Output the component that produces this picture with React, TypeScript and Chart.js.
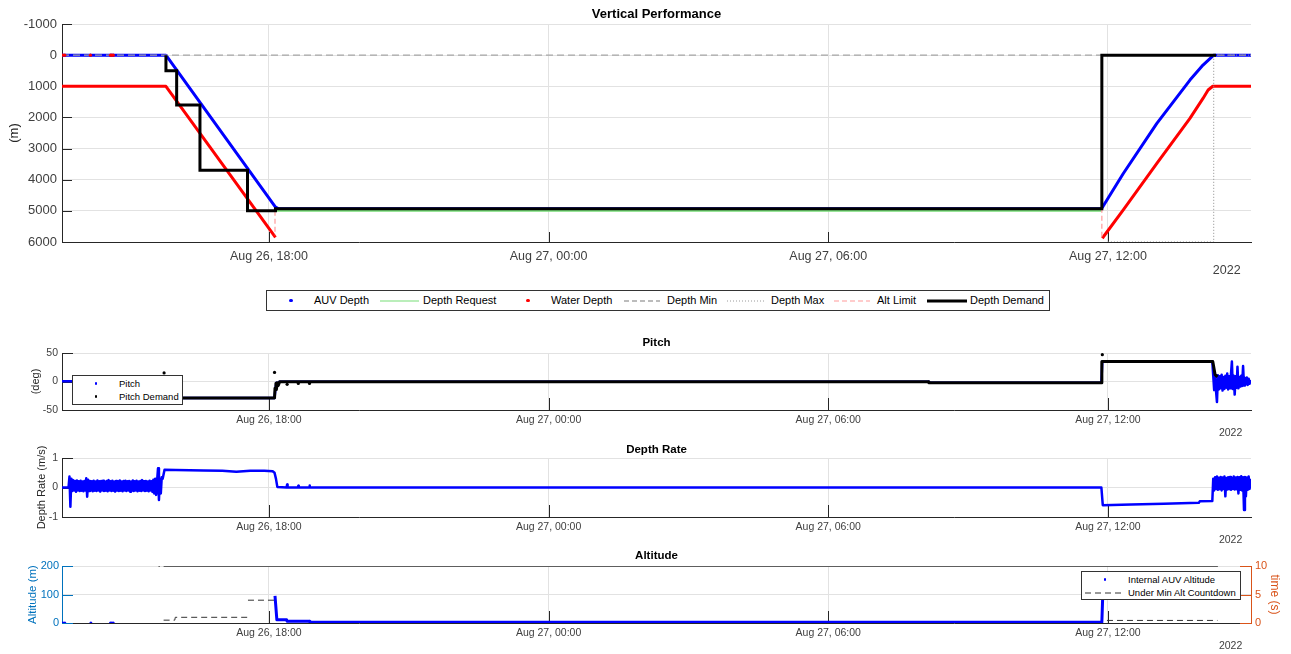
import React, { useEffect, useRef } from 'react';
import { Chart, registerables } from 'chart.js';

Chart.register(...registerables);

const FONT = '"Liberation Sans", Arial, Helvetica, sans-serif';
const W = 1291;

// ---------- shared time axis (hours since 2022-08-26 00:00) ----------
const timeMin = 13.56;
const timeMax = 39.07;
const timeTickHours = [18, 24, 30, 36];
const timeTickLabels = ['Aug 26, 18:00', 'Aug 27, 00:00', 'Aug 27, 06:00', 'Aug 27, 12:00'];
const yearLabel = '2022';

// ---------- Vertical Performance (m) ----------
const depthTicks = [-1000, 0, 1000, 2000, 3000, 4000, 5000, 6000];
const auvDepthT = [13.56, 15.79, 18.14, 18.2, 35.86, 35.89, 36.33, 37.05, 37.76, 38.04, 38.27, 39.07];
const auvDepthV = [0, 0, 4880, 4930, 4930, 4870, 3800, 2190, 800, 320, 0, 0];
const auvSurfaceT = [13.58, 13.62, 14.17, 14.6, 14.63, 14.66];
const auvSurfaceV = [0, 0, 0, 0, 0, 0];
const depthRequestT = [18.15, 35.86];
const depthRequestV = [5000, 5000];
const waterDepthT = [13.56, 15.79, 18.14, 18.15, 35.88, 36.33, 37.05, 37.76, 38.04, 38.15, 38.25, 39.07];
const waterDepthV = [1000, 1000, 5850, null, 5880, 4970, 3475, 2030, 1390, 1120, 1000, 1000];
const waterSurfaceT = [13.58, 13.62, 14.17, 14.6, 14.63, 14.66];
const waterSurfaceV = [0, 0, 0, 0, 0, 0];
const depthMinT = [13.56, 39.07];
const depthMinV = [0, 0];
const depthMaxT = [36.0, 38.27, 38.27, 39.07];
const depthMaxV = [6000, 6000, 0, 0];
const altLimitT = [18.13, 18.13, 18.13, 35.87, 35.87];
const altLimitV = [5000, 5780, null, 4900, 5880];
const depthDemandT = [15.79, 15.79, 16.02, 16.02, 16.52, 16.52, 17.54, 17.54, 18.14, 18.14, 35.87, 35.87, 38.32];
const depthDemandV = [0, 500, 500, 1600, 1600, 3700, 3700, 5000, 5000, 4930, 4930, 0, 0];

// ---------- Pitch (deg) ----------
const pitchTicks = [-50, 0, 50];
const pitchT = [13.56, 15.78, 15.8, 18.12, 18.14, 18.16, 18.18, 18.22, 32.15, 32.16, 35.86, 35.88, 38.24];
const pitchV = [0.5, 0.5, -29, -29, -12, -2, -6, -0.5, -0.5, -2, -2, 35, 35];
const pitchEndStart = 38.26;
const pitchEndStep = 0.02;
const pitchEndValues = [10, -15, 8, -17, -36, 11, -14, 9, -12, 12, -16, 8, -13, 10, -11, 14, -14, 9, -12, 12, 35, -13, 10, -23, 9, -11, 26, -12, 8, -9, 10, -8, 27, -7, 6, -5, 7, -6, 5, -4, 3];
const pitchDemandT = [15.8, 18.12, 18.13, 18.15, 18.16, 18.18, 18.2, 18.23, 32.15, 32.16, 35.86, 35.87, 38.25, 38.3, 38.35];
const pitchDemandV = [-29, -29, -12, -3, -14, -2, -7, -0.5, -0.5, -2, -2, 35, 35, 12, 8];
const pitchDemandDotT = [15.75, 18.12, 18.39, 18.63, 18.87, 35.88];
const pitchDemandDotV = [15, 16, -5, -3.5, -3.5, 47];

// ---------- Depth Rate (m/s) ----------
const rateTicks = [-1, 0, 1];
const rateLeadT = [13.56, 13.7];
const rateLeadV = [0, 0];
const rateStartStart = 13.72;
const rateStartStep = 0.02;
const rateStartValues = [
  0.37, -0.65, 0.3, -0.12, 0.25, -0.1, 0.22, -0.14, 0.24, -0.1,
  0.21, -0.12, 0.23, -0.11, 0.2, -0.13, 0.22, -0.1, 0.31, -0.31,
  0.26, -0.12, 0.22, -0.1, 0.21, -0.13, 0.23, -0.11, 0.2, -0.12,
  0.24, -0.1, 0.21, -0.14, 0.22, -0.1, 0.23, -0.12, 0.2, -0.11,
  0.22, -0.13, 0.25, -0.1, 0.21, -0.12, 0.23, -0.11, 0.2, -0.14,
  0.22, -0.1, 0.21, -0.12, 0.24, -0.11, 0.2, -0.13, 0.22, -0.1,
  0.23, -0.12, 0.21, -0.1, 0.22, -0.14, 0.2, -0.11, 0.24, -0.12,
  0.21, -0.1, 0.23, -0.13, 0.2, -0.11, 0.22, -0.12, 0.25, -0.1,
  0.21, -0.12, 0.22, -0.11, 0.2, -0.13, 0.23, -0.1, 0.21, -0.15,
  0.26, -0.2, 0.3, -0.25, 0.22, 0.65, -0.42, 0.3, -0.2, 0.35, 0.3,
];
const rateMidT = [15.76, 16.0, 16.6, 17.0, 17.3, 17.6, 17.9, 18.08, 18.12, 18.15, 18.18, 18.38, 18.39, 18.4, 18.62, 18.63, 18.64, 18.86, 18.87, 18.88, 35.86, 35.89, 36.5, 37.2, 37.95, 37.97, 38.24];
const rateMidV = [0.6, 0.59, 0.58, 0.57, 0.53, 0.57, 0.57, 0.55, 0.5, 0.3, 0.02, 0, 0.1, 0, 0, 0.06, 0, 0, 0.07, 0, 0, -0.6, -0.58, -0.55, -0.52, -0.47, -0.46];
const rateEndStart = 38.26;
const rateEndStep = 0.02;
const rateEndValues = [0.3, -0.1, 0.35, -0.05, 0.37, -0.08, 0.33, -0.06, 0.36, -0.1, 0.34, -0.05, 0.37, -0.3, 0.32, -0.07, 0.35, -0.06, 0.36, -0.08, 0.33, -0.05, 0.37, -0.07, 0.34, -0.06, 0.36, -0.2, 0.35, -0.08, 0.38, -0.1, 0.35, -0.76, 0.36, -0.3, 0.34, -0.08, 0.37, -0.05, 0.3];

// ---------- Altitude (m) and countdown (s) ----------
const altitudeTicks = [0, 100, 200];
const countdownTicks = [0, 5, 10];
const auvAltT = [18.13, 18.17, 18.38, 18.39, 18.87, 18.88, 35.87, 35.9];
const auvAltV = [95, 11, 11, 6, 6, 2.5, 2.5, 150];
const auvAltSurfaceT = [13.58, 13.62, 14.18, 14.6, 14.63, 14.66];
const auvAltSurfaceV = [0, 0, 0, 0, 0, 0];
const countdownT = [15.74, 15.98, 15.99, 17.54, 17.545, 17.55, 18.12, 18.125, 35.98, 38.35];
const countdownV = [0.5, 0.5, 1, 1, null, 4, 4, null, 0.45, 0.45];
const countdownCapT = [15.63, 15.66, 15.7, 15.74, 38.36];
const countdownCapV = [10, 10, null, 10, 10];

// ---------- colours ----------
const BLUE = '#0000ff';
const RED = '#ff0000';
const BLACK = '#000000';
const AXIS = '#262626';
const GRID = '#e2e2e2';
const TEXT = '#404040';
const LEFT_BLUE = '#0072bd';
const ORANGE = '#d95319';

const pts = (t: number[], v: (number | null)[]) => t.map((x, i) => ({ x, y: v[i] }));
const sampled = (t0: number, dt: number, v: number[]) => v.map((y, i) => ({ x: t0 + i * dt, y }));

const inwardTicks = {
  id: 'inwardTicks',
  beforeDatasetsDraw(chart: any, _args: any, opts: any) {
    const { ctx, chartArea: a } = chart;
    ctx.save();
    ctx.lineWidth = 1;
    Object.values(chart.scales).forEach((s: any) => {
      const horiz = s.isHorizontal();
      const len = horiz ? opts.xLen : opts.yLen;
      ctx.strokeStyle = (opts.colors && opts.colors[s.id]) || AXIS;
      ctx.beginPath();
      s.ticks.forEach((t: any) => {
        const p = Math.round(s.getPixelForValue(t.value)) + 0.5;
        if (horiz) {
          ctx.moveTo(p, a.bottom);
          ctx.lineTo(p, a.bottom - len);
        } else if (s.position === 'left') {
          ctx.moveTo(a.left, p);
          ctx.lineTo(a.left + len, p);
        } else {
          ctx.moveTo(a.right, p);
          ctx.lineTo(a.right - len, p);
        }
      });
      ctx.stroke();
    });
    ctx.restore();
  },
};

function xScale(height: number, font: number, pad: number, titlePad: number, spaces: string) {
  return {
    type: 'linear',
    position: 'bottom',
    min: timeMin,
    max: timeMax,
    afterBuildTicks: (axis: any) => {
      axis.ticks = timeTickHours.map((value) => ({ value }));
    },
    afterFit: (axis: any) => {
      axis.height = height;
    },
    ticks: {
      autoSkip: false,
      maxRotation: 0,
      padding: pad,
      color: TEXT,
      font: { family: FONT, size: font },
      callback: (_v: any, i: number) => timeTickLabels[i],
    },
    grid: { color: GRID, drawTicks: false },
    border: { display: true, color: AXIS, width: 1 },
    title: {
      display: true,
      text: yearLabel + spaces,
      align: 'end',
      color: TEXT,
      font: { family: FONT, size: font },
      padding: { top: 0, bottom: titlePad },
    },
  };
}

function yScale(o: any) {
  return {
    type: 'linear',
    position: o.position || 'left',
    min: o.min,
    max: o.max,
    reverse: !!o.reverse,
    afterBuildTicks: (axis: any) => {
      axis.ticks = o.ticks.map((value: number) => ({ value }));
    },
    afterFit: (axis: any) => {
      axis.width = o.width;
    },
    ticks: {
      padding: o.pad,
      color: o.color || TEXT,
      font: { family: FONT, size: o.font },
      callback: (v: any) => String(v),
    },
    grid: { color: GRID, drawTicks: false, drawOnChartArea: o.grid !== false },
    border: { display: true, color: o.axisColor || AXIS, width: 1 },
    title: {
      display: true,
      text: o.title,
      color: o.titleColor || AXIS,
      font: { family: FONT, size: o.titleFont },
      padding: { top: o.titlePad, bottom: 0 },
    },
  };
}

function titleOpt(text: string, size: number, top: number, bottom: number) {
  return {
    display: true,
    text,
    fullSize: false,
    color: '#000',
    font: { family: FONT, size, weight: 'bold' },
    padding: { top, bottom },
  };
}

const lineDs = (label: string, data: any[], color: string, width: number, extra: any = {}) => ({
  label,
  data,
  borderColor: color,
  backgroundColor: color,
  borderWidth: width,
  borderJoinStyle: 'round',
  pointRadius: 0,
  tension: 0,
  spanGaps: false,
  fill: false,
  ...extra,
});

const dotDs = (label: string, data: any[], color: string, r: number) => ({
  label,
  data,
  showLine: false,
  pointRadius: r,
  pointBorderWidth: 0,
  pointBackgroundColor: color,
  borderColor: color,
  backgroundColor: color,
});

const common = (rightPad: number) => ({
  responsive: false,
  animation: false,
  events: [],
  layout: { padding: { left: 0, right: rightPad, top: 0, bottom: 0 } },
});

function verticalConfig(): any {
  return {
    type: 'line',
    data: {
      datasets: [
        lineDs('Depth Demand', pts(depthDemandT, depthDemandV), BLACK, 3, { borderJoinStyle: 'miter' }),
        lineDs('Alt Limit', pts(altLimitT, altLimitV), '#ff9a9a', 1.2, { borderDash: [5, 3] }),
        lineDs('Depth Max', pts(depthMaxT, depthMaxV), '#8c8c8c', 1, { borderDash: [1, 2] }),
        dotDs('Water Depth surface', pts(waterSurfaceT, waterSurfaceV), RED, 1.6),
        lineDs('Water Depth', pts(waterDepthT, waterDepthV), RED, 3),
        lineDs('Depth Min', pts(depthMinT, depthMinV), '#a6a6a6', 1.3, { borderDash: [7, 4] }),
        lineDs('Depth Request', pts(depthRequestT, depthRequestV), '#77dd77', 2),
        dotDs('AUV Depth surface', pts(auvSurfaceT, auvSurfaceV), BLUE, 1.5),
        lineDs('AUV Depth', pts(auvDepthT, auvDepthV), BLUE, 3),
      ],
    },
    options: {
      ...common(W - 1251),
      plugins: {
        legend: { display: false },
        tooltip: { enabled: false },
        title: titleOpt('Vertical Performance', 13, 6.2, 2.2),
        inwardTicks: { xLen: 10, yLen: 10 },
      },
      scales: {
        x: xScale(43, 12.5, 7, 6.5, '   '),
        y: yScale({ min: -1000, max: 6000, reverse: true, ticks: depthTicks, width: 62, pad: 5, font: 13, title: '(m)', titleFont: 13, titlePad: 6.2 }),
      },
    },
    plugins: [inwardTicks],
  };
}

function pitchConfig(): any {
  return {
    type: 'line',
    data: {
      datasets: [
        dotDs('Pitch Demand outliers', pts(pitchDemandDotT, pitchDemandDotV), BLACK, 1.6),
        lineDs('Pitch Demand', pts(pitchDemandT, pitchDemandV), BLACK, 3),
        lineDs('Pitch', [...pts(pitchT, pitchV), ...sampled(pitchEndStart, pitchEndStep, pitchEndValues)], BLUE, 2.5),
      ],
    },
    options: {
      ...common(W - 1251),
      plugins: {
        legend: { display: false },
        tooltip: { enabled: false },
        title: titleOpt('Pitch', 11.5, 6.1, 3.1),
        inwardTicks: { xLen: 12, yLen: 11 },
      },
      scales: {
        x: xScale(30, 10.5, 3.7, 0.7, '   '),
        y: yScale({ min: -50, max: 50, ticks: pitchTicks, width: 62, pad: 4, font: 10.5, title: '(deg)', titleFont: 11, titlePad: 29.4 }),
      },
    },
    plugins: [inwardTicks],
  };
}

function rateConfig(): any {
  const data = [
    ...pts(rateLeadT, rateLeadV),
    ...sampled(rateStartStart, rateStartStep, rateStartValues),
    ...pts(rateMidT, rateMidV),
    ...sampled(rateEndStart, rateEndStep, rateEndValues),
  ];
  return {
    type: 'line',
    data: { datasets: [lineDs('Depth Rate', data, BLUE, 2.5)] },
    options: {
      ...common(W - 1251),
      plugins: {
        legend: { display: false },
        tooltip: { enabled: false },
        title: titleOpt('Depth Rate', 11.5, 3.1, 1.1),
        inwardTicks: { xLen: 12, yLen: 11 },
      },
      scales: {
        x: xScale(30, 10.5, 3.7, 0.7, '   '),
        y: yScale({ min: -1, max: 1, ticks: rateTicks, width: 62, pad: 4, font: 10.5, title: 'Depth Rate (m/s)', titleFont: 11, titlePad: 35.4 }),
      },
    },
    plugins: [inwardTicks],
  };
}

function altitudeConfig(): any {
  return {
    type: 'line',
    data: {
      datasets: [
        dotDs('Internal AUV Altitude surface', pts(auvAltSurfaceT, auvAltSurfaceV), BLUE, 1.5),
        lineDs('Internal AUV Altitude', pts(auvAltT, auvAltV), BLUE, 3, { yAxisID: 'y' }),
        lineDs('Under Min Alt Countdown', pts(countdownT, countdownV), '#333333', 1, { borderDash: [6, 4], yAxisID: 'y2' }),
        lineDs('Countdown cap', pts(countdownCapT, countdownCapV), '#333333', 1.5, { yAxisID: 'y2' }),
      ],
    },
    options: {
      ...common(0),
      plugins: {
        legend: { display: false },
        tooltip: { enabled: false },
        title: titleOpt('Altitude', 11.5, 2.1, 3.1),
        inwardTicks: { xLen: 12, yLen: 11, colors: { y: LEFT_BLUE, y2: ORANGE } },
      },
      scales: {
        x: xScale(30, 10.5, 3.7, 0.7, '   '),
        y: yScale({
          min: 0, max: 200, ticks: altitudeTicks, width: 62, pad: 3, font: 11, title: 'Altitude (m)', titleFont: 11.5, titlePad: 26.1,
          color: LEFT_BLUE, axisColor: LEFT_BLUE, titleColor: LEFT_BLUE,
        }),
        y2: yScale({
          position: 'right', min: 0, max: 10, ticks: countdownTicks, width: W - 1251, pad: 4, font: 11, title: 'time (s)', titleFont: 12, titlePad: 9.1,
          color: ORANGE, axisColor: ORANGE, titleColor: ORANGE, grid: false,
        }),
      },
    },
    plugins: [inwardTicks],
  };
}

function ChartCanvas({ top, height, make }: { top: number; height: number; make: () => any }) {
  const ref = useRef<HTMLCanvasElement>(null);
  useEffect(() => {
    const chart = new Chart(ref.current as HTMLCanvasElement, make());
    return () => chart.destroy();
  }, []);
  return (
    <canvas
      ref={ref}
      width={W}
      height={height}
      style={{ position: 'absolute', left: 0, top, width: W, height, display: 'block' }}
    />
  );
}

const Txt = ({ x, y, text, size }: { x: number; y: number; text: string; size: number }) => (
  <div
    style={{
      position: 'absolute',
      left: x,
      top: y - size * 0.6,
      fontSize: size,
      lineHeight: `${size * 1.2}px`,
      whiteSpace: 'nowrap',
      fontFamily: FONT,
      color: '#000',
    }}
  >
    {text}
  </div>
);

const Dot = ({ x, y, color, r = 1.6 }: { x: number; y: number; color: string; r?: number }) => (
  <div
    style={{
      position: 'absolute',
      left: x - r,
      top: y - r,
      width: r * 2,
      height: r * 2,
      borderRadius: '50%',
      background: color,
    }}
  />
);

const Seg = ({ x1, x2, y, color, w, dash }: { x1: number; x2: number; y: number; color: string; w: number; dash?: string }) => (
  <svg style={{ position: 'absolute', left: x1, top: y - 3 }} width={x2 - x1} height={6}>
    <line x1={0} y1={3} x2={x2 - x1} y2={3} stroke={color} strokeWidth={w} strokeDasharray={dash} />
  </svg>
);

const Box = ({ x, y, w, h }: { x: number; y: number; w: number; h: number }) => (
  <div
    style={{
      position: 'absolute',
      left: x,
      top: y,
      width: w,
      height: h,
      boxSizing: 'border-box',
      border: '1px solid #333',
      background: '#fff',
    }}
  />
);

export default function App() {
  const ly = 300.5;
  return (
    <div
      style={{
        position: 'absolute',
        left: 0,
        top: 0,
        width: W,
        height: 654,
        background: '#fff',
        overflow: 'hidden',
        fontFamily: FONT,
      }}
    >
      <ChartCanvas top={0} height={285} make={verticalConfig} />

      {/* main legend */}
      <Box x={266} y={290} w={784} h={21} />
      <Dot x={291} y={ly} color={BLUE} />
      <Txt x={314} y={ly} text="AUV Depth" size={11} />
      <Seg x1={380} x2={419} y={ly} color="#77dd77" w={1.2} />
      <Txt x={423} y={ly} text="Depth Request" size={11} />
      <Dot x={528} y={ly} color={RED} />
      <Txt x={551} y={ly} text="Water Depth" size={11} />
      <Seg x1={624} x2={660} y={ly} color="#a6a6a6" w={1.3} dash="5 3" />
      <Txt x={667} y={ly} text="Depth Min" size={11} />
      <Seg x1={727} x2={765} y={ly} color="#9a9a9a" w={1} dash="1 2" />
      <Txt x={771} y={ly} text="Depth Max" size={11} />
      <Seg x1={834} x2={870} y={ly} color="#ff9a9a" w={1.2} dash="5 3" />
      <Txt x={877} y={ly} text="Alt Limit" size={11} />
      <Seg x1={927} x2={967} y={ly} color={BLACK} w={3} />
      <Txt x={970} y={ly} text="Depth Demand" size={11} />

      <ChartCanvas top={330} height={110} make={pitchConfig} />
      <Box x={72} y={375} w={111} h={30} />
      <Dot x={96} y={383.5} color={BLUE} r={1.4} />
      <Txt x={119} y={384} text="Pitch" size={9.5} />
      <Dot x={96} y={396.5} color={BLACK} r={1.4} />
      <Txt x={119} y={397} text="Pitch Demand" size={9.5} />

      <ChartCanvas top={440} height={107} make={rateConfig} />

      <ChartCanvas top={547} height={106} make={altitudeConfig} />
      <Box x={1081} y={571} w={160} h={29} />
      <Dot x={1105} y={579.5} color={BLUE} r={1.4} />
      <Txt x={1128} y={579.5} text="Internal AUV Altitude" size={9.5} />
      <Seg x1={1085} x2={1125} y={592.5} color="#333" w={1} dash="6 4" />
      <Txt x={1128} y={592.5} text="Under Min Alt Countdown" size={9.5} />
    </div>
  );
}
